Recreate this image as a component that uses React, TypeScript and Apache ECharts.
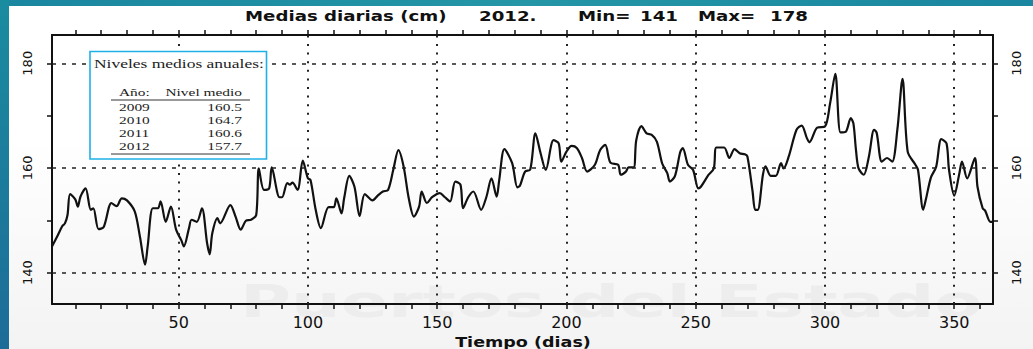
import React, { useEffect, useRef } from "react";
import * as echarts from "echarts";

// Daily mean sea level (cm), 2012 — [day of year, level]
const days = [
  1, 3, 5, 6, 7, 8, 10, 11, 12, 14, 16, 17, 19, 21, 24, 26, 28, 30, 33, 35, 37, 38, 40, 42, 43, 45, 47, 49,
  51, 52, 54, 55, 57, 59, 61, 62, 63, 65, 66, 70, 72, 74, 76, 78, 80, 81, 83, 85, 86, 89, 90, 92, 93, 94, 96,
  98, 100, 101, 103, 105, 108, 110, 111, 113, 114, 116, 118, 120, 122, 125, 127, 129, 131, 133, 135, 137,
  139, 141, 143, 144, 146, 148, 151, 153, 155, 157, 159, 160, 162, 164, 167, 169, 171, 173, 174, 176, 179,
  181, 182, 184, 186, 188, 190, 192, 195, 197, 198, 200, 202, 204, 206, 208, 211, 213, 215, 217, 220, 221,
  223, 224, 226, 227, 229, 231, 233, 235, 237, 239, 240, 242, 244, 245, 247, 249, 251, 252, 255, 257, 258,
  261, 263, 265, 267, 269, 270, 272, 273, 274, 276, 277, 279, 281, 283, 284, 286, 289, 291, 293, 294, 297,
  300, 302, 304, 306, 308, 310, 311, 312, 313, 315, 317, 319, 320, 322, 324, 326, 328, 330, 332, 335, 336,
  338, 339, 341, 343, 345, 347, 348, 350, 352, 353, 355, 358, 359, 361, 362, 364, 365,
];
const levels = [
  145.0, 146.9, 148.9, 149.4, 151.0, 155.0, 154.0, 152.6, 154.5, 156.1, 152.0, 152.3, 148.3, 148.7, 153.3,
  152.7, 154.2, 153.8, 151.7, 146.9, 141.5, 145.0, 152.3, 152.3, 153.6, 149.7, 152.6, 148.2,
  146.2, 145.0, 148.5, 150.1, 149.7, 152.3, 145.6, 143.5, 147.5, 150.4, 149.4, 152.9, 150.7, 148.2, 149.9,
  150.1, 151.0, 159.9, 155.8, 156.1, 160.1, 154.4, 154.4, 157.1, 156.8, 157.2, 155.8,
  161.4, 158.0, 157.7, 152.0, 148.5, 152.5, 152.5, 154.2, 151.3, 154.2, 158.5, 156.4, 150.8, 155.0, 153.8,
  154.7, 155.5, 155.8, 159.6, 163.4, 160.3,
  154.2, 150.7, 152.6, 155.5, 153.3, 154.4, 155.2, 154.4, 153.6, 157.4, 156.8, 152.3, 154.4, 155.5, 152.0,
  154.4, 158.0, 154.5, 157.7, 163.6, 160.9,
  156.3, 156.6, 159.3, 159.7, 166.6, 162.8, 159.6, 165.3, 164.7, 161.2, 163.1, 164.2, 163.8, 161.9, 159.3,
  160.6, 163.4, 164.4, 161.0, 160.6, 158.7,
  159.3, 160.1, 160.1, 165.3, 168.0, 166.6, 166.3, 165.0, 160.9, 159.0, 157.4, 158.5, 163.0, 163.8, 160.6,
  159.6, 156.1, 156.4, 158.7, 159.9, 163.9,
  163.9, 161.9, 163.6, 162.8, 162.6, 162.2, 155.5, 152.0, 152.0, 158.7, 160.3, 158.5, 158.5, 160.9, 159.9,
  162.2, 167.3, 168.1, 165.7, 164.9, 167.7,
  167.9, 172.4, 178.0, 166.8, 166.9, 169.5, 168.5, 163.4, 159.9, 158.7, 162.2, 167.3, 166.7, 161.2, 161.9,
  161.2, 167.3, 177.0, 163.1, 160.6, 159.6,
  152.0, 153.9, 158.2, 160.2, 165.5, 164.7, 159.6, 154.7, 159.0, 161.2, 158.0, 161.9, 156.4, 152.3, 151.8,
  149.7, 149.7,
];

const xLabelValues = [50, 100, 150, 200, 250, 300, 350];
const xTickValues = [10, 20, 30, 40, 50, 60, 70, 80, 90, 100, 110, 120, 130, 140, 150, 160, 170, 180, 190, 200, 210, 220, 230, 240, 250, 260, 270, 280, 290, 300, 310, 320, 330, 340, 350, 360];
const yLabelValues = [140, 160, 180];
const yTickValues = [140, 150, 160, 170, 180];
const xGridValues = [50, 100, 150, 200, 250, 300, 350];
const yGridValues = [140, 160, 180];

const titleParts = ["Medias diarias (cm)", "2012.", "Min=", "141", "Max=", "178"];
const xAxisTitle = "Tiempo (dias)";
const insetTitle = "Niveles medios anuales:";
const insetHeader = ["Año:", "Nivel medio"];
const years = ["2009", "2010", "2011", "2012"];
const annualMeans = ["160.5", "164.7", "160.6", "157.7"];
const watermark = "Puertos del Estado";

export default function App() {
  const ref = useRef<HTMLDivElement>(null);
  useEffect(() => {
    if (!ref.current) return;
    const chart = echarts.init(ref.current, undefined, { renderer: "svg" });
    const data = days.map((d, i) => [d, levels[i]]);
    const axisLine = { show: true, lineStyle: { color: "#111", width: 2 } };
    const titleX = [245, 479, 578, 640, 698, 770];
    const rowY = [107, 120, 133.3, 146.7];
    const insetText = (text: string, x: number, y: number, size: number, align: string) => ({
      type: "text",
      x,
      y,
      scaleX: 1.4,
      z: 101,
      style: {
        text,
        fontFamily: "Liberation Serif",
        fontSize: size,
        fill: "#222",
        textAlign: align,
        textVerticalAlign: "middle",
      },
    });
    const option: any = {
      animation: false,
      backgroundColor: "#ffffff",
      grid: { left: 52, top: 35, width: 941, height: 269, containLabel: false },
      xAxis: [
        {
          type: "value",
          position: "bottom",
          min: 1,
          max: 365,
          axisLine,
          splitLine: { show: false },
          axisTick: { show: true, customValues: xTickValues, length: 5, lineStyle: { color: "#111", width: 1.5 } },
          axisLabel: {
            show: true,
            customValues: xLabelValues,
            margin: 10,
            fontSize: 16,
            fontFamily: "DejaVu Sans",
            color: "#111",
          },
        },
        {
          type: "value",
          position: "top",
          min: 1,
          max: 365,
          axisLine,
          splitLine: { show: false },
          axisTick: { show: true, customValues: xTickValues, length: 5, lineStyle: { color: "#111", width: 1.5 } },
          axisLabel: { show: false },
        },
      ],
      yAxis: [
        {
          type: "value",
          position: "left",
          min: 134,
          max: 185.4,
          axisLine,
          splitLine: { show: false },
          axisTick: { show: true, customValues: yTickValues, length: 5, lineStyle: { color: "#111", width: 1.5 } },
          axisLabel: {
            show: true,
            customValues: yLabelValues,
            rotate: 90,
            margin: 18,
            fontSize: 13,
            fontFamily: "DejaVu Sans",
            color: "#111",
          },
        },
        {
          type: "value",
          position: "right",
          min: 134,
          max: 185.4,
          axisLine,
          splitLine: { show: false },
          axisTick: { show: true, customValues: yTickValues, length: 5, lineStyle: { color: "#111", width: 1.5 } },
          axisLabel: {
            show: true,
            customValues: yLabelValues,
            rotate: 90,
            margin: 17,
            fontSize: 13,
            fontFamily: "DejaVu Sans",
            color: "#111",
          },
        },
      ],
      series: [
        {
          type: "line",
          xAxisIndex: 0,
          yAxisIndex: 0,
          data,
          showSymbol: false,
          symbol: "none",
          smooth: 0.3,
          z: 3,
          lineStyle: { color: "#111", width: 2.2, join: "round" },
          markLine: {
            silent: true,
            symbol: ["none", "none"],
            label: { show: false },
            emphasis: { disabled: true },
            data: [
              ...yGridValues.map((v) => ({ yAxis: v, lineStyle: { type: [4, 6], width: 1.6, color: "#222" } })),
              ...xGridValues.map((v) => ({ xAxis: v, lineStyle: { type: [2, 6.6], width: 2, color: "#222" } })),
            ],
          },
        },
      ],
      graphic: [
        {
          type: "rect",
          z: -5,
          shape: { x: 9, y: 140, width: 1024, height: 209 },
          style: {
            fill: new echarts.graphic.LinearGradient(0, 0, 0, 1, [
              { offset: 0, color: "#ffffff" },
              { offset: 1, color: "#f3f3f3" },
            ]),
          },
        },
        {
          type: "text",
          x: 240,
          y: 302,
          scaleX: 1.55,
          z: -4,
          style: {
            text: watermark,
            fontFamily: "DejaVu Sans",
            fontWeight: "bold",
            fontSize: 45,
            fill: "#ededed",
            textAlign: "left",
            textVerticalAlign: "middle",
          },
        },
        {
          type: "rect",
          z: 200,
          shape: { x: 0, y: 0, width: 1033, height: 6 },
          style: {
            fill: new echarts.graphic.LinearGradient(0, 0, 1, 0, [
              { offset: 0, color: "#1a86a0" },
              { offset: 0.5, color: "#2496a6" },
              { offset: 1, color: "#1a86a0" },
            ]),
          },
        },
        {
          type: "rect",
          z: 200,
          shape: { x: 0, y: 0, width: 9, height: 349 },
          style: {
            fill: new echarts.graphic.LinearGradient(0, 0, 0, 1, [
              { offset: 0, color: "#1a8ca0" },
              { offset: 1, color: "#1d6c98" },
            ]),
          },
        },
        ...titleParts.map((t, i) => ({
          type: "text",
          x: titleX[i],
          y: 16.5,
          scaleX: 1.3,
          z: 50,
          style: {
            text: t,
            fontFamily: "DejaVu Sans",
            fontWeight: "bold",
            fontSize: 14,
            fill: "#111",
            textAlign: "left",
            textVerticalAlign: "middle",
          },
        })),
        {
          type: "text",
          x: 523,
          y: 342,
          scaleX: 1.3,
          z: 50,
          style: {
            text: xAxisTitle,
            fontFamily: "DejaVu Sans",
            fontWeight: "bold",
            fontSize: 13.5,
            fill: "#111",
            textAlign: "center",
            textVerticalAlign: "middle",
          },
        },
        {
          type: "rect",
          z: 100,
          shape: { x: 90, y: 51.5, width: 176.5, height: 107.5 },
          style: { fill: "#ffffff", stroke: "#1fb0e6", lineWidth: 1.6 },
        },
        insetText(insetTitle, 94, 63, 12.5, "left"),
        insetText(insetHeader[0], 119, 92.7, 11, "left"),
        insetText(insetHeader[1], 242, 92.7, 11, "right"),
        {
          type: "line",
          z: 101,
          shape: { x1: 111, y1: 100, x2: 250, y2: 100 },
          style: { stroke: "#333", lineWidth: 1 },
        },
        ...years.map((y, i) => insetText(y, 119, rowY[i], 11, "left")),
        ...annualMeans.map((v, i) => insetText(v, 242, rowY[i], 11, "right")),
        {
          type: "line",
          z: 101,
          shape: { x1: 111, y1: 154, x2: 250, y2: 154 },
          style: { stroke: "#777", lineWidth: 1.6 },
        },
      ],
    };
    chart.setOption(option);
    return () => chart.dispose();
  }, []);
  return (
    <div
      ref={ref}
      style={{ position: "fixed", left: 0, top: 0, width: 1033, height: 349, background: "#fff" }}
    />
  );
}
